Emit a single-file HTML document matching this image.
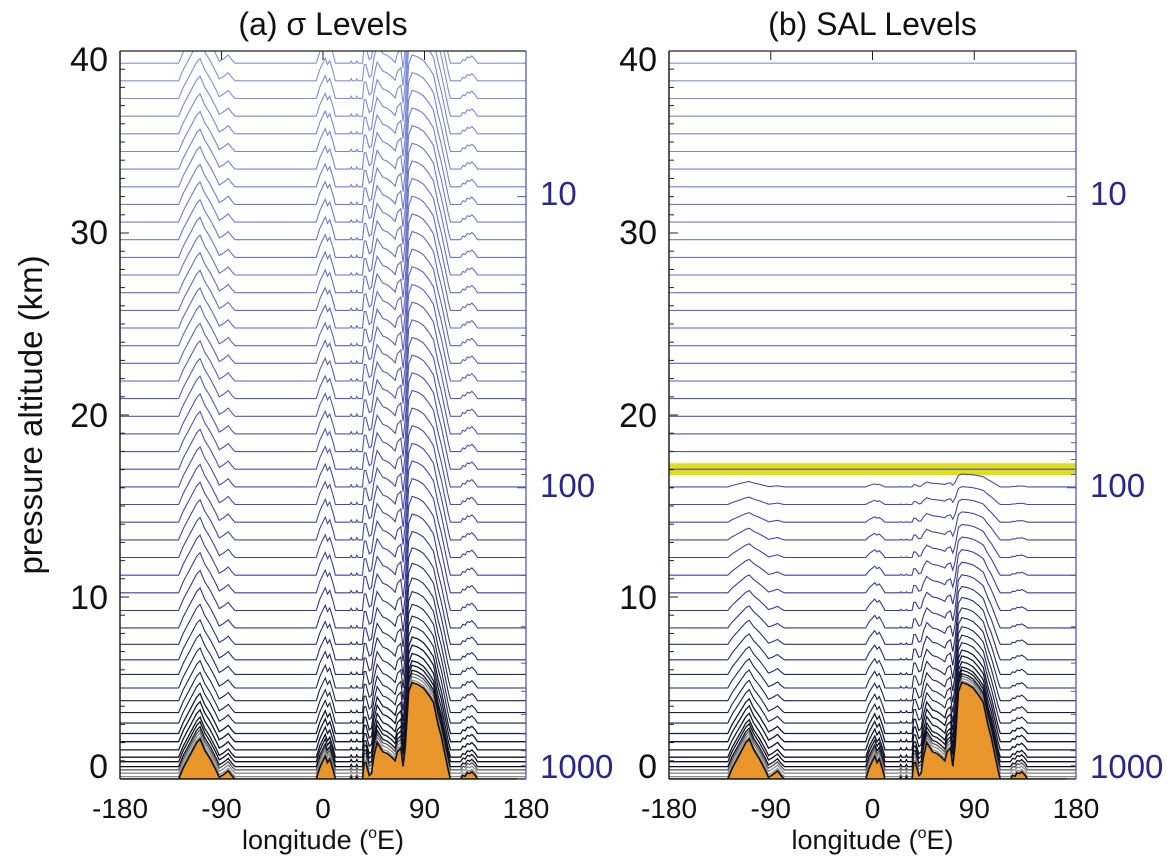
<!DOCTYPE html>
<html><head><meta charset="utf-8"><style>
html,body{margin:0;padding:0;background:#fff;}
svg{display:block;font-family:"Liberation Sans",sans-serif;}
</style></head><body>
<svg id="chart" width="1167" height="861" viewBox="0 0 1167 861">
<defs>
<clipPath id="clipA"><rect x="120" y="51" width="406" height="728"/></clipPath>
<clipPath id="clipB"><rect x="669" y="51" width="407" height="728"/></clipPath>
</defs>
<g id="layer"></g>
</svg>
<script>
// Surface topography (longitude in degrees E, height in km)
const topoLon = [-180,-128,-124,-118,-112,-109,-105,-100,-95,-92,-88,-84,-81,-78,-6,-3,0,2,4,6,9,11,24,25,26,29,30,31,35,36.5,38,41,43,45,48,50,53,57,61,64,66,69,71,73,76,79,84,89,94,98,102,105,108,111,113,122,124,126,128,130,132,135,137,180];
const topoH = [0,0,0.6,1.3,2.0,2.2,1.6,1.1,0.5,0.1,0.25,0.45,0.2,0,0,0.6,1.0,1.25,0.9,1.1,0.5,0,0,0.12,0,0,0.12,0,0,0.9,0.9,0.2,0.3,1.2,2.0,1.8,1.5,1.4,1.2,1.0,1.5,1.7,0.7,1.8,4.8,5.3,5.2,5.0,4.6,4.2,3.0,2.3,1.4,0.5,0,0,0.2,0.15,0.35,0.3,0.4,0.2,0,0];
// Model level base heights (km) over flat sea-level surface
const levels = [0.13,0.32,0.5,0.68,0.95,1.2,1.6,2.05,2.5,3.07,3.65,4.3,5.0,5.75,6.55,7.4,8.3,9.26,10.23,11.2,12.17,13.14,14.11,15.08,16.05,17.02,17.99,18.96,19.93,20.9,21.87,22.84,23.81,24.78,25.75,26.72,27.69,28.66,29.63,30.6,31.57,32.54,33.51,34.48,35.45,36.42,37.39,38.36,39.33];
const yTicks = [0,10,20,30,40];
const xTicks = [-180,-90,0,90,180];
const pTicks = [10,100,1000];
const salTop = 17.02;

const NS = "http://www.w3.org/2000/svg";
const layer = document.getElementById('layer');
const Y0 = 779, KM = 18.2;
function yS(z){ return Y0 - z*KM; }
function xS(L,W,lon){ return L + (lon+180)/360*W; }
function topo(lon){
  for(let i=0;i<topoLon.length-1;i++){
    if(lon>=topoLon[i] && lon<=topoLon[i+1]){
      const t=(lon-topoLon[i])/(topoLon[i+1]-topoLon[i]);
      return topoH[i]+t*(topoH[i+1]-topoH[i]);
    }
  }
  return 0;
}
function mk(tag, attrs, parent){
  const e=document.createElementNS(NS,tag);
  for(const k in attrs) e.setAttribute(k, attrs[k]);
  (parent||layer).appendChild(e);
  return e;
}
function lineColor(b){
  if(b<0.4) return '#8a8a8a';
  if(b<0.6) return '#555';
  let c1,c2,t;
  if(b<10){ c1=[15,15,30]; c2=[60,60,160]; t=(b-0.6)/9.4; }
  else { c1=[60,60,160]; c2=[125,145,220]; t=Math.min(1,(b-10)/28); }
  const c=c1.map((v,i)=>Math.round(v+(c2[i]-v)*t));
  return 'rgb('+c.join(',')+')';
}
const lonSamples=[];
for(let l=-180;l<=180;l+=0.5) lonSamples.push(l);

function panel(id, L, W, clip, mode, title){
  const g=mk('g',{'clip-path':'url(#'+clip+')'});
  
  
  if(mode==='sal'){
    const band=mk('rect',{x:L,y:yS(salTop)-6,width:W,height:12,fill:'#dede1e'},g);
    
    
  }
  levels.forEach((b,k)=>{
    let pts=[];
    lonSamples.forEach(lon=>{
      let h=topo(lon), z;
      if(mode==='sigma') z=b+h;
      else z = b>=salTop-0.01 ? b : b+h*Math.max(0,1-b/18.5);
      pts.push(xS(L,W,lon).toFixed(1)+','+yS(z).toFixed(1));
    });
    const pl=mk('polyline',{points:pts.join(' '),fill:'none',stroke:lineColor(b),'stroke-width':b<3?1.3:1.1},g);
    
    
  });
  let tp=[xS(L,W,-180)+','+Y0];
  lonSamples.forEach(lon=>tp.push(xS(L,W,lon).toFixed(1)+','+yS(topo(lon)).toFixed(1)));
  tp.push(xS(L,W,180)+','+Y0);
  const poly=mk('polygon',{points:tp.join(' '),fill:'#e8952b',stroke:'#111','stroke-width':1.6},g);
  
  

  const ax=mk('g',{});
  
  
  mk('line',{x1:L,y1:51,x2:L+W,y2:51,stroke:'#222','stroke-width':1.3},ax);
  mk('line',{x1:L,y1:Y0,x2:L+W,y2:Y0,stroke:'#222','stroke-width':1.5},ax);
  mk('line',{x1:L,y1:51,x2:L,y2:Y0,stroke:'#222','stroke-width':1.5},ax);
  mk('line',{x1:L+W,y1:51,x2:L+W,y2:Y0,stroke:'#5a5ab0','stroke-width':1.3},ax);
  for(let z=0;z<=40;z++){
    const len = z%10===0?9:5;
    mk('line',{x1:L,y1:yS(z),x2:L+len,y2:yS(z),stroke:'#222','stroke-width':1},ax);
  }
  [-90,0,90].forEach(lon=>{
    mk('line',{x1:xS(L,W,lon),y1:51,x2:xS(L,W,lon),y2:60,stroke:'#222','stroke-width':1},ax);
  });
  for(let p=10;p<=1000;p+= (p<100?10:100)){
    const z=16*Math.log10(1000/p);
    const len=[10,100,1000].includes(p)?9:5;
    mk('line',{x1:L+W,y1:yS(z),x2:L+W-len,y2:yS(z),stroke:'#5a5ab0','stroke-width':1},ax);
  }
  const yLabPos={0:766,10:597,20:415,30:232,40:59};
  yTicks.forEach(v=>{
    const t=mk('text',{x:L-12,y:yLabPos[v]+12,'text-anchor':'end','font-size':34,fill:'#111'});
    t.textContent=v;
    
    
  });
  xTicks.forEach(v=>{
    const t=mk('text',{x:xS(L,W,v),y:818,'text-anchor':'middle','font-size':28,fill:'#111'});
    t.textContent=v;
    
    
  });
  const pLabPos={10:193,100:485,1000:766};
  pTicks.forEach(p=>{
    const t=mk('text',{x:L+W+14,y:pLabPos[p]+12,'text-anchor':'start','font-size':33,fill:'#2b2590'});
    t.textContent=p;
    
    
  });
  const xt=mk('text',{x:L+W/2,y:849,'text-anchor':'middle','font-size':27,fill:'#111'});
  xt.innerHTML='longitude (<tspan font-size="16" dy="-11">o</tspan><tspan dy="11">E)</tspan>';
  
  
  const tt=mk('text',{x:L+W/2,y:35,'text-anchor':'middle','font-size':32,fill:'#111'});
  tt.textContent=title;
  
  
}
panel('panel-a',120,406,'clipA','sigma','(a) σ Levels');
panel('panel-b',669,407,'clipB','sal','(b) SAL Levels');
const yt=mk('text',{x:0,y:0,'text-anchor':'middle','font-size':33,fill:'#111',transform:'translate(42,415) rotate(-90)'});
yt.textContent='pressure altitude (km)';


</script>
</body></html>
